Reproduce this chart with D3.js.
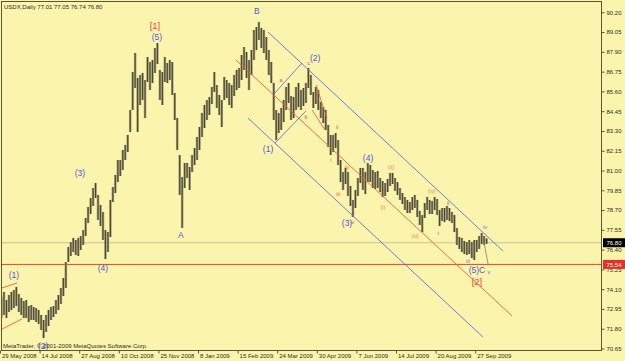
<!DOCTYPE html>
<html>
<head>
<meta charset="utf-8">
<script src="https://cdn.jsdelivr.net/npm/d3@7"></script>
<style>
  html, body { margin: 0; padding: 0; background: #faf4ac; }
  svg { display: block; }
  text { font-family: "Liberation Sans", Arial, sans-serif; }
</style>
</head>
<body>
<div id="chart"></div>
<script>
// daily bars (grouped by 2 days)
var highs = [
  73.64, 73.94, 73.47, 73.76, 73.94, 74.05, 74.23, 73.82, 73.59, 73.41,
  73.47, 73.12, 73.18, 73.06, 73.00, 72.89, 72.60, 72.31, 72.60, 72.89,
  73.06, 73.12, 73.47, 73.76, 74.17, 74.75, 75.68, 76.55, 76.84, 77.08,
  76.96, 77.08, 77.19, 77.54, 78.24, 78.88, 79.40, 79.98, 80.27, 79.58,
  79.00, 78.59, 77.54, 77.43, 79.29, 80.04, 80.74, 81.61, 81.61, 82.19,
  82.48, 83.07, 84.52, 86.73, 87.83, 86.38, 86.55, 86.67, 86.26, 87.60,
  87.31, 87.43, 88.12, 88.41, 86.85, 86.73, 87.60, 87.25, 87.43, 87.31,
  85.51, 84.05, 81.90, 80.62, 81.44, 81.44, 81.20, 81.90, 82.31, 82.95,
  83.53, 84.35, 84.81, 85.10, 85.27, 85.86, 86.73, 85.97, 85.39, 85.10,
  86.44, 86.26, 86.09, 85.97, 86.55, 86.85, 86.96, 87.72, 88.18, 87.89,
  87.43, 88.01, 89.17, 89.35, 89.64, 89.29, 89.17, 88.76, 88.01, 87.31,
  86.09, 84.52, 84.34, 84.64, 85.10, 85.86, 86.09, 85.33, 85.27, 85.86,
  86.09, 85.68, 85.80, 86.09, 86.96, 86.55, 85.57, 85.86, 85.68, 84.98,
  84.69, 84.52, 83.65, 83.07, 83.07, 83.18, 82.77, 81.61, 80.91, 81.15,
  80.91, 80.10, 79.29, 79.87, 80.56, 81.15, 81.15, 80.91, 81.44, 81.32,
  81.03, 80.91, 80.97, 80.56, 80.39, 80.27, 80.51, 80.86, 80.86, 80.56,
  80.33, 79.98, 79.69, 79.46, 79.29, 79.17, 79.46, 79.58, 79.29, 78.65,
  78.41, 79.11, 79.46, 79.29, 79.23, 79.46, 79.34, 78.70, 78.82, 78.82,
  78.94, 78.82, 78.59, 78.41, 77.66, 77.13, 77.08, 76.90, 76.84, 76.96,
  76.84, 76.96, 76.96, 77.19, 77.37, 77.19, 77.05
];
var lows = [
  72.42, 72.60, 72.42, 72.77, 72.89, 73.00, 73.12, 72.77, 72.60, 72.42,
  72.42, 72.19, 72.31, 72.31, 72.19, 72.07, 71.73, 71.26, 71.61, 71.96,
  72.31, 72.48, 72.66, 72.89, 73.24, 73.70, 74.17, 75.68, 76.03, 76.26,
  76.09, 76.03, 76.38, 76.67, 77.19, 77.95, 78.47, 78.94, 79.40, 78.12,
  77.77, 76.96, 75.85, 76.26, 77.13, 79.17, 79.69, 80.33, 80.68, 81.03,
  81.61, 82.08, 83.24, 84.52, 85.80, 83.24, 84.81, 85.10, 84.05, 86.15,
  85.68, 86.09, 86.67, 87.19, 85.10, 84.81, 86.15, 86.09, 86.26, 85.39,
  83.94, 82.19, 79.58, 77.66, 79.98, 80.56, 79.87, 80.91, 81.32, 81.61,
  82.19, 82.95, 83.47, 83.94, 84.23, 84.87, 85.57, 84.64, 84.23, 83.53,
  85.10, 85.22, 84.81, 84.64, 85.33, 85.68, 85.80, 86.26, 86.85, 86.38,
  85.68, 86.55, 87.43, 88.01, 88.59, 88.12, 87.83, 87.43, 86.55, 86.09,
  83.94, 82.77, 83.18, 83.36, 83.82, 84.52, 84.93, 83.94, 84.05, 84.52,
  84.69, 84.52, 84.75, 84.93, 85.80, 85.39, 84.64, 84.87, 84.52, 84.05,
  83.76, 83.36, 82.37, 81.90, 82.08, 82.31, 81.32, 80.33, 79.87, 80.22,
  79.52, 78.94, 78.30, 78.82, 79.52, 80.27, 79.87, 79.63, 80.33, 80.33,
  79.98, 79.93, 79.98, 79.75, 79.46, 79.52, 79.75, 80.10, 80.22, 79.81,
  79.58, 79.29, 79.05, 78.70, 78.53, 78.53, 78.70, 78.82, 78.30, 77.83,
  77.42, 78.24, 78.70, 78.47, 78.47, 78.70, 78.41, 77.77, 78.06, 78.00,
  78.12, 78.06, 77.95, 77.42, 76.67, 76.44, 76.26, 76.15, 76.09, 76.15,
  75.91, 75.80, 76.26, 76.44, 76.73, 76.67, 76.74
];

var dateLabels = ["29 May 2008", "14 Jul 2008", "27 Aug 2008", "10 Oct 2008", "25 Nov 2008",
  "8 Jan 2009", "15 Feb 2009", "24 Mar 2009", "30 Apr 2009", "7 Jun 2009",
  "14 Jul 2009", "20 Aug 2009", "27 Sep 2009"];
var dateSlots = [0, 16, 32, 48, 64, 80, 96, 112, 128, 144, 160, 176, 192];

var priceTicks = [90.20, 89.05, 87.90, 86.75, 85.60, 84.45, 83.30, 82.15, 81.00,
  79.85, 78.70, 77.55, 76.40, 75.25, 74.10, 72.95, 71.80, 70.65];

var bidPrice = 76.80;
var levelPrice = 75.54;
var titleText = "USDX,Daily  77.01 77.05 76.74 76.80";
var copyText = "MetaTrader, \u00a9 2001-2009 MetaQuotes Software Corp.";

// wave count labels: [text, slot, price, kind]
var waveLabels = [
  ["[1]", 62.0, 89.40, "bracket"],
  ["(5)", 62.8, 88.76, "wave"],
  ["(1)", 5.0, 74.92, "wave"],
  ["(2)", 16.8, 70.79, "wave"],
  ["(3)", 31.7, 80.85, "wave"],
  ["(4)", 41.0, 75.33, "wave"],
  ["A", 72.5, 77.25, "wave"],
  ["B", 103.2, 90.28, "wave"],
  ["(1)", 107.7, 82.25, "wave"],
  ["(2)", 126.7, 87.54, "wave"],
  ["a", 112.9, 86.26, "minor"],
  ["b", 123.0, 84.11, "minor"],
  ["c", 124.2, 87.25, "minor"],
  ["i", 133.1, 81.61, "minor"],
  ["ii", 135.6, 83.53, "minor"],
  ["iii", 136.0, 79.63, "minor"],
  ["iv", 139.6, 81.20, "minor"],
  ["(3)", 139.6, 77.95, "wave"],
  ["v", 142.0, 78.01, "minor"],
  ["(4)", 148.1, 81.73, "wave"],
  ["(i)", 154.1, 78.88, "sub"],
  ["(ii)", 157.4, 81.20, "sub"],
  ["(iii)", 167.1, 77.19, "sub"],
  ["(iv)", 173.9, 79.81, "sub"],
  ["i", 176.4, 77.37, "purple"],
  ["ii", 180.4, 79.11, "purple"],
  ["iii", 188.5, 75.74, "purple"],
  ["iv", 195.4, 77.72, "purple"],
  ["v", 197.0, 75.10, "purple"],
  ["(5)C", 192.1, 75.22, "wave"],
  ["[2]", 192.1, 74.52, "bracket"]
];

// trend lines: [slot1, price1, slot2, price2, kind]
var trendLines = [
  [0.2, 74.17, 6.3, 74.46, "red"],
  [0.2, 71.78, 8.3, 72.37, "red"],
  [107.7, 89.05, 202.6, 76.32, "blue"],
  [99.6, 84.05, 194.5, 71.32, "blue"],
  [94.7, 87.43, 206.3, 72.54, "red"],
  [109.7, 85.39, 121.4, 87.25, "blue"],
  [110.5, 82.60, 123.0, 84.46, "blue"],
  [127.1, 85.97, 131.5, 84.05, "red"],
  [125.5, 84.52, 130.7, 83.36, "red"],
  [195.0, 76.78, 196.6, 75.56, "gray"]
];

var W = 625, H = 361;
var frame = {left: 1.5, top: 1.5, right: 601.5, bottom: 350.5};

var svg = d3.select("#chart").append("svg")
  .attr("width", W)
  .attr("height", H);

svg.append("rect")
  .attr("width", W).attr("height", H)
  .attr("fill", "#faf4ac");

var x = d3.scaleLinear().domain([0, 196]).range([1.5, 486.6]);
var y = d3.scaleLinear().domain([70.65, 90.20]).range([348.5, 12.3]);

svg.append("clipPath").attr("id", "clip")
  .append("rect")
  .attr("x", frame.left).attr("y", frame.top)
  .attr("width", frame.right - frame.left)
  .attr("height", frame.bottom - frame.top);

var plot = svg.append("g").attr("clip-path", "url(#clip)");

// bid and level lines
plot.append("line")
  .attr("x1", frame.left).attr("x2", frame.right)
  .attr("y1", y(bidPrice)).attr("y2", y(bidPrice))
  .attr("stroke", "#c9c39a").attr("stroke-width", 1);
plot.append("line")
  .attr("x1", frame.left).attr("x2", frame.right)
  .attr("y1", y(levelPrice)).attr("y2", y(levelPrice))
  .attr("stroke", "#e8442c").attr("stroke-width", 1);

// bars
plot.selectAll(".bar")
  .data(highs)
  .enter().append("rect")
  .attr("class", "bar")
  .attr("x", function(d, i) { return x(i) - 1.25; })
  .attr("width", 2.5)
  .attr("y", function(d) { return y(d); })
  .attr("height", function(d, i) { return y(lows[i]) - y(d); })
  .attr("fill", "#a49e74");

plot.selectAll(".wick")
  .data(highs)
  .enter().append("line")
  .attr("class", "wick")
  .attr("x1", function(d, i) { return x(i); })
  .attr("x2", function(d, i) { return x(i); })
  .attr("y1", function(d) { return y(d); })
  .attr("y2", function(d, i) { return y(lows[i]); })
  .attr("stroke", "#4a4730")
  .attr("stroke-width", 1.1);

// trend lines
var lineColor = {red: "#f0603c", blue: "#6b6be0", gray: "#8f8c78"};
plot.selectAll(".trend")
  .data(trendLines)
  .enter().append("line")
  .attr("class", "trend")
  .attr("x1", function(d) { return x(d[0]); })
  .attr("y1", function(d) { return y(d[1]); })
  .attr("x2", function(d) { return x(d[2]); })
  .attr("y2", function(d) { return y(d[3]); })
  .attr("stroke", function(d) { return lineColor[d[4]]; })
  .attr("stroke-width", 0.9);

// wave labels
var labelStyle = {
  wave:    {fill: "#5656d4", size: 8.5},
  bracket: {fill: "#ec4848", size: 9.5},
  minor:   {fill: "#ec5038", size: 5.5},
  sub:     {fill: "#ee8456", size: 5.5},
  purple:  {fill: "#8a6cd6", size: 6}
};
svg.selectAll(".wave")
  .data(waveLabels)
  .enter().append("text")
  .attr("class", "wave")
  .attr("x", function(d) { return x(d[1]); })
  .attr("y", function(d) { return y(d[2]); })
  .attr("dy", "0.35em")
  .attr("text-anchor", "middle")
  .style("font-size", function(d) { return labelStyle[d[3]].size + "px"; })
  .attr("fill", function(d) { return labelStyle[d[3]].fill; })
  .text(function(d) { return d[0]; });

// title and copyright
svg.append("text")
  .attr("x", 4).attr("y", 8.5)
  .style("font-size", "6px")
  .attr("fill", "#2e2c1c")
  .text(titleText);
svg.append("text")
  .attr("x", 3).attr("y", 348)
  .style("font-size", "6px")
  .attr("fill", "#2e2c1c")
  .text(copyText);

// frame
svg.append("rect")
  .attr("x", frame.left).attr("y", frame.top)
  .attr("width", frame.right - frame.left)
  .attr("height", frame.bottom - frame.top)
  .attr("fill", "none")
  .attr("stroke", "#5b5633")
  .attr("stroke-width", 1);

// price axis
var yAxis = svg.append("g")
  .attr("transform", "translate(" + frame.right + ",0)")
  .call(d3.axisRight(y).tickValues(priceTicks).tickFormat(d3.format(".2f")).tickSize(3).tickSizeOuter(0).tickPadding(2));
yAxis.select(".domain").remove();
yAxis.selectAll("line").attr("stroke", "#5b5633");
yAxis.selectAll("text").style("font-size", "6px").attr("fill", "#2e2c1c").attr("font-family", null);

// time axis
var xAxis = svg.append("g")
  .attr("transform", "translate(0," + frame.bottom + ")")
  .call(d3.axisBottom(x).tickValues(dateSlots)
    .tickFormat(function(d, i) { return dateLabels[i]; })
    .tickSize(3).tickSizeOuter(0));
xAxis.select(".domain").remove();
xAxis.selectAll("line").attr("stroke", "#5b5633").attr("transform", "translate(-1.5,0)");
xAxis.selectAll("text")
  .style("font-size", "6px")
  .attr("fill", "#2e2c1c")
  .attr("font-family", null)
  .attr("text-anchor", "start")
  .attr("x", 0)
  .attr("y", 3);

// price boxes for bid and level
var boxes = [[bidPrice, "#000000"], [levelPrice, "#e8302a"]];
svg.selectAll(".pbox")
  .data(boxes)
  .enter().append("rect")
  .attr("class", "pbox")
  .attr("x", frame.right + 1.5)
  .attr("y", function(d) { return y(d[0]) - 4.5; })
  .attr("width", W - frame.right - 1.5)
  .attr("height", 9)
  .attr("fill", function(d) { return d[1]; });
svg.selectAll(".ptext")
  .data(boxes)
  .enter().append("text")
  .attr("class", "ptext")
  .attr("x", frame.right + 5)
  .attr("y", function(d) { return y(d[0]); })
  .attr("dy", "0.35em")
  .style("font-size", "6px")
  .attr("fill", "#ffffff")
  .text(function(d) { return d[0].toFixed(2); });
</script>
</body>
</html>
